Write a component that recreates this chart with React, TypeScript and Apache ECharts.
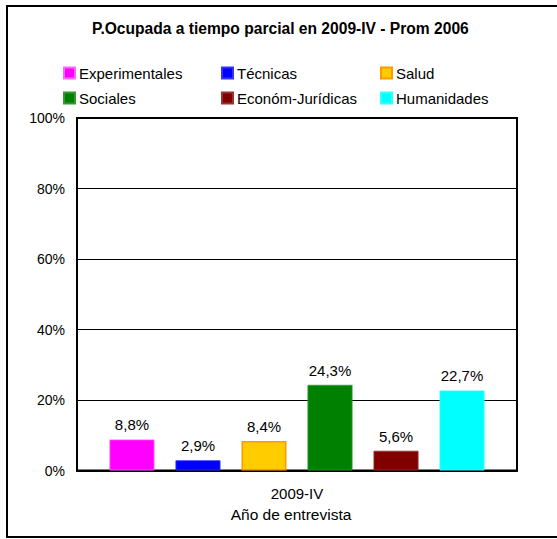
import React, { useEffect, useRef } from "react";
import * as echarts from "echarts";

const TITLE = "P.Ocupada a tiempo parcial en 2009-IV - Prom 2006";
const categories = ["2009-IV"];
const seriesNames = ["Experimentales", "Técnicas", "Salud", "Sociales", "Económ-Jurídicas", "Humanidades"];
const seriesValues = [8.8, 2.9, 8.4, 24.3, 5.6, 22.7];
const seriesColors = ["#FF00FF", "#0000FF", "#FFCC00", "#008000", "#800000", "#00FFFF"];
const seriesBorders = ["#FF66FF", "#3333FF", "#FF9900", "#339933", "#993333", "#33FFFF"];
const yTicks = [0, 20, 40, 60, 80, 100];
const xAxisName = "Año de entrevista";

const FONT = "Arial, 'Liberation Sans', sans-serif";

export default function App() {
  const ref = useRef<HTMLDivElement>(null);
  useEffect(() => {
    if (!ref.current) return;
    const chart = echarts.init(ref.current, undefined, { renderer: "svg" });
    const legendPos = [
      { left: 63, top: 65 },
      { left: 221, top: 65 },
      { left: 380, top: 65 },
      { left: 63, top: 90 },
      { left: 221, top: 90 },
      { left: 380, top: 90 },
    ];
    const option = {
      animation: false,
      backgroundColor: "#fff",
      textStyle: { fontFamily: FONT },
      title: {
        text: TITLE,
        left: 92,
        top: 19,
        padding: 0,
        textStyle: { fontFamily: FONT, fontSize: 15.6, fontWeight: "bold", color: "#000", lineHeight: 18 },
      },
      legend: seriesNames.map((n, i) => ({
        data: [n],
        left: legendPos[i].left,
        top: legendPos[i].top,
        padding: 0,
        itemWidth: 11,
        itemHeight: 11,
        selectedMode: false,
        icon: "rect",
        textStyle: { fontFamily: FONT, fontSize: 15, color: "#000", lineHeight: 16, padding: [0, 0, 0, -1] },
      })),
      graphic: [
        {
          type: "rect",
          shape: { x: 7, y: 6, width: 700, height: 531 },
          style: { fill: "none", stroke: "#000", lineWidth: 2 },
          silent: true,
        },
      ],
      grid: {
        left: 77,
        right: 40,
        top: 118,
        bottom: 68.5,
        show: true,
        borderColor: "#000",
        borderWidth: 2,
        backgroundColor: "transparent",
      },
      xAxis: {
        type: "category",
        data: categories,
        axisTick: { show: false },
        axisLine: { lineStyle: { color: "#000", width: 2 } },
        axisLabel: { fontFamily: FONT, fontSize: 15, color: "#000", margin: 15 },
        name: xAxisName,
        nameLocation: "middle",
        nameGap: 36,
        nameTextStyle: { fontFamily: FONT, fontSize: 15.5, color: "#000", padding: [0, 12, 0, 0] },
      },
      yAxis: {
        type: "value",
        min: yTicks[0],
        max: yTicks[yTicks.length - 1],
        interval: yTicks[1] - yTicks[0],
        axisLine: { show: true, lineStyle: { color: "#000", width: 2 } },
        axisTick: { show: false },
        splitLine: { lineStyle: { color: "#000", width: 1 } },
        axisLabel: { fontFamily: FONT, fontSize: 14, color: "#000", margin: 12, formatter: "{value}%" },
      },
      series: seriesNames.map((n, i) => ({
        name: n,
        type: "bar",
        data: [seriesValues[i]],
        barWidth: 45,
        barGap: "46.7%",
        itemStyle: {
          color: seriesColors[i],
          borderColor: seriesBorders[i],
          borderWidth: i === 2 ? 1.5 : 0.8,
        },
        label: {
          show: true,
          position: "top",
          distance: 7,
          fontFamily: FONT,
          fontSize: 15,
          color: "#000",
          formatter: (p: any) => p.value.toFixed(1).replace(".", ",") + "%",
        },
      })),
    };
    chart.setOption(option as any);
    return () => chart.dispose();
  }, []);
  return (
    <div
      ref={ref}
      style={{ position: "fixed", left: 0, top: 0, width: 557, height: 539, background: "#fff" }}
    />
  );
}
